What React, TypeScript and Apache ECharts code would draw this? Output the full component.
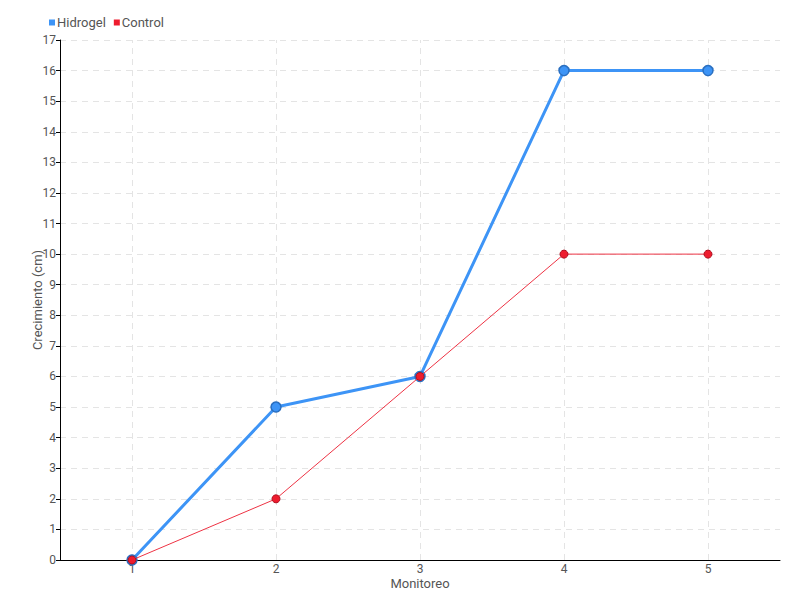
import React, { useEffect, useRef } from "react";
import * as echarts from "echarts";

const categories = ["1", "2", "3", "4", "5"];
const hidrogel = [0, 5, 6, 16, 16];
const control = [0, 2, 6, 10, 10];
const yMin = 0;
const yMax = 17;

const FONT = "Roboto, sans-serif";

export default function App() {
  const ref = useRef<HTMLDivElement>(null);
  useEffect(() => {
    if (!ref.current) return;
    const chart = echarts.init(ref.current, null, { renderer: "svg" });
    chart.setOption({
      animation: false,
      textStyle: { fontFamily: FONT, color: "#555" },
      legend: {
        left: 44,
        top: 11,
        itemWidth: 6,
        itemHeight: 6,
        itemGap: 8,
        icon: "rect",
        itemStyle: { borderWidth: 0 },
        textStyle: { fontFamily: FONT, fontSize: 13, color: "#555", padding: [0, 0, 0, -3] },
        data: ["Hidrogel", "Control"],
      },
      grid: { left: 60, right: 20, top: 40, bottom: 40, outerBoundsMode: "none" },
      xAxis: {
        type: "category",
        data: categories,
        boundaryGap: true,
        name: "Monitoreo",
        nameLocation: "middle",
        nameGap: 17,
        nameMoveOverlap: false,
        nameTextStyle: { fontFamily: FONT, fontSize: 13, color: "#555" },
        axisLine: { lineStyle: { color: "#000", width: 1 } },
        axisTick: { show: false },
        axisLabel: { fontFamily: FONT, fontSize: 12, color: "#555", margin: 3 },
        splitLine: { show: false },
      },
      yAxis: {
        type: "value",
        min: yMin,
        max: yMax,
        interval: 1,
        name: "Crecimiento (cm)",
        nameLocation: "middle",
        nameGap: 16,
        nameMoveOverlap: false,
        nameTextStyle: { fontFamily: FONT, fontSize: 13, color: "#555" },
        axisLine: { show: true, lineStyle: { color: "#000", width: 1 } },
        axisTick: { show: true, length: 4, lineStyle: { color: "#000" } },
        axisLabel: { fontFamily: FONT, fontSize: 12, color: "#555", margin: 4 },
        splitLine: { show: true, lineStyle: { color: "#e4e4e4", type: [6, 5] } },
      },
      series: [
        {
          name: "grid-x",
          type: "line",
          data: categories.map(() => null),
          silent: true,
          z: 0,
          markLine: {
            silent: true,
            z: 0,
            symbol: "none",
            label: { show: false },
            lineStyle: { color: "#e4e4e4", type: [6, 5], width: 1 },
            data: categories.map((c) => ({ xAxis: c })),
          },
        },
        {
          name: "Hidrogel",
          type: "line",
          data: hidrogel,
          color: "#3d94f6",
          lineStyle: { width: 3, color: "#3d94f6" },
          symbol: "circle",
          symbolSize: 10,
          itemStyle: { color: "#3d94f6", borderColor: "#2a6fc0", borderWidth: 1.5 },
          z: 2,
        },
        {
          name: "Control",
          type: "line",
          data: control,
          color: "#ee1c2e",
          lineStyle: { width: 1, color: "#ee3344" },
          symbol: "circle",
          symbolSize: 8,
          itemStyle: { color: "#ee1c2e", borderColor: "#b01020", borderWidth: 1 },
          z: 3,
        },
      ],
    });
    return () => chart.dispose();
  }, []);
  return <div ref={ref} style={{ width: 800, height: 600, position: "absolute", left: 0, top: 0 }} />;
}
